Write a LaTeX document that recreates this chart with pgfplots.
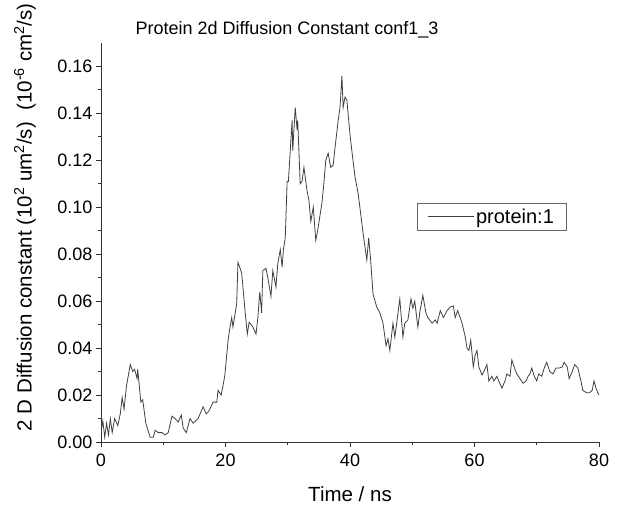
\documentclass[border=0pt]{standalone}
\usepackage{pgfplots}
\pgfplotsset{compat=1.18}
\usepackage{fontspec}
\setmainfont{Liberation Sans}
\begin{document}
\begin{tikzpicture}[x=1pt,y=1pt]
\path[use as bounding box] (0,0) rectangle (620,506);
\begin{axis}[
  at={(101pt,64pt)}, anchor=south west,
  scale only axis, width=498pt, height=399pt,
  xmin=0, xmax=80, ymin=0, ymax=0.17,
  axis lines=left,
  axis line style={-, line width=0.9pt, black!80},
  tick align=outside, major tick length=5pt, minor tick length=3pt,
  tick style={black!80, line width=0.9pt},
  xtick={0,20,40,60,80}, minor x tick num=1,
  ytick={0,0.02,0.04,0.06,0.08,0.10,0.12,0.14,0.16}, minor y tick num=1,
  scaled y ticks=false,
  yticklabel style={/pgf/number format/.cd, fixed, fixed zerofill, precision=2},
  /pgf/number format/assume math mode=true,
  ticklabel style={font=\fontsize{18}{20}\selectfont},
  xticklabel style={yshift=-3pt},
  xlabel={Time / ns},
  ylabel={2 D Diffusion constant (10\textsuperscript{2} um\textsuperscript{2}/s)\ \ (10\textsuperscript{-6} cm\textsuperscript{2}/s)},
  label style={font=\fontsize{20.5}{24}\selectfont},
  xlabel style={yshift=-13pt},
  ylabel style={at={(axis description cs:-0.1526,0.563)}, anchor=center},
  legend style={at={(0.6345,0.599)}, anchor=north west, draw=black!60, line width=0.6pt,
    font=\fontsize{20}{22}\selectfont, inner xsep=10pt, inner ysep=3.5pt},
  legend cell align=left,
  legend image code/.code={\draw[#1] (0pt,0pt) -- (46pt,0pt);},
]
\addplot[black!75, line width=0.8pt] table {
0.0 0.004
0.3 0.009
0.6 0.002
0.9 0.008
1.2 0.003
1.5 0.010
1.8 0.004
2.2 0.010
2.7 0.007
3.1 0.012
3.4 0.019
3.7 0.014
4.1 0.024
4.7 0.033
5.1 0.030
5.4 0.031
5.8 0.027
5.9 0.031
6.4 0.017
6.7 0.018
7.2 0.008
7.9 0.002
8.4 0.002
8.7 0.005
9.2 0.004
9.8 0.004
10.3 0.003
10.8 0.004
11.4 0.011
11.9 0.010
12.4 0.0085
12.9 0.0115
13.2 0.006
13.7 0.004
14.3 0.010
14.8 0.008
15.6 0.010
16.4 0.015
16.9 0.012
17.3 0.013
18.0 0.017
18.6 0.017
18.8 0.022
19.3 0.020
19.6 0.024
19.9 0.0285
20.4 0.043
20.7 0.0485
21.0 0.053
21.2 0.049
21.8 0.059
22.0 0.0766
22.6 0.072
22.8 0.066
23.1 0.057
23.5 0.046
23.8 0.051
24.4 0.049
24.9 0.046
25.2 0.053
25.5 0.064
25.8 0.055
26.0 0.073
26.5 0.074
26.8 0.070
27.3 0.062
27.6 0.073
28.1 0.066
28.4 0.076
28.8 0.082
29.1 0.0745
29.3 0.082
29.6 0.087
29.9 0.111
30.1 0.111
30.4 0.124
30.7 0.137
30.8 0.124
31.2 0.1426
31.5 0.133
31.6 0.137
32.0 0.110
32.3 0.111
32.6 0.117
33.1 0.107
33.4 0.103
33.7 0.094
34.1 0.100
34.5 0.086
34.8 0.090
35.5 0.102
35.8 0.110
36.1 0.120
36.5 0.123
36.9 0.117
37.3 0.118
37.6 0.1255
38.1 0.137
38.4 0.1426
38.7 0.156
38.9 0.1426
39.2 0.147
39.5 0.1455
40.0 0.131
40.3 0.124
40.8 0.113
41.3 0.106
42.1 0.089
42.7 0.0775
43.0 0.087
43.3 0.078
43.7 0.063
44.3 0.0575
44.8 0.055
45.3 0.0506
45.8 0.041
46.1 0.044
46.4 0.039
46.9 0.0506
47.2 0.0447
47.5 0.0506
48.0 0.061
48.5 0.0447
48.8 0.0506
49.3 0.052
49.8 0.061
50.1 0.057
50.4 0.060
50.9 0.049
51.2 0.055
51.7 0.0625
52.2 0.055
52.5 0.053
53.2 0.0506
53.7 0.052
54.0 0.0506
54.5 0.056
55.0 0.053
55.6 0.056
56.1 0.0575
56.6 0.058
56.9 0.053
57.3 0.056
58.0 0.0506
58.5 0.045
58.8 0.040
59.1 0.039
59.4 0.0434
59.8 0.032
60.1 0.037
60.4 0.039
60.7 0.032
61.2 0.0285
61.5 0.030
62.0 0.033
62.3 0.026
62.8 0.028
63.1 0.026
63.6 0.028
63.9 0.026
64.4 0.023
64.9 0.026
65.2 0.029
65.7 0.028
66.0 0.035
66.5 0.031
66.8 0.029
67.3 0.027
67.8 0.025
68.3 0.026
68.6 0.028
68.9 0.029
69.2 0.0315
69.6 0.028
70.0 0.026
70.3 0.029
70.8 0.028
71.2 0.0315
71.6 0.034
72.1 0.030
72.6 0.029
73.1 0.0315
73.6 0.0315
74.1 0.032
74.4 0.034
74.9 0.032
75.2 0.027
75.7 0.030
76.1 0.033
76.6 0.0315
77.1 0.026
77.4 0.022
78.0 0.021
78.5 0.021
78.9 0.022
79.2 0.026
79.5 0.023
79.8 0.021
80.0 0.020
};
\addlegendentry{protein:1}
\end{axis}
\node at (287,476) {\fontsize{18}{20}\selectfont Protein 2d Diffusion Constant conf1\_3};
\end{tikzpicture}
\end{document}
